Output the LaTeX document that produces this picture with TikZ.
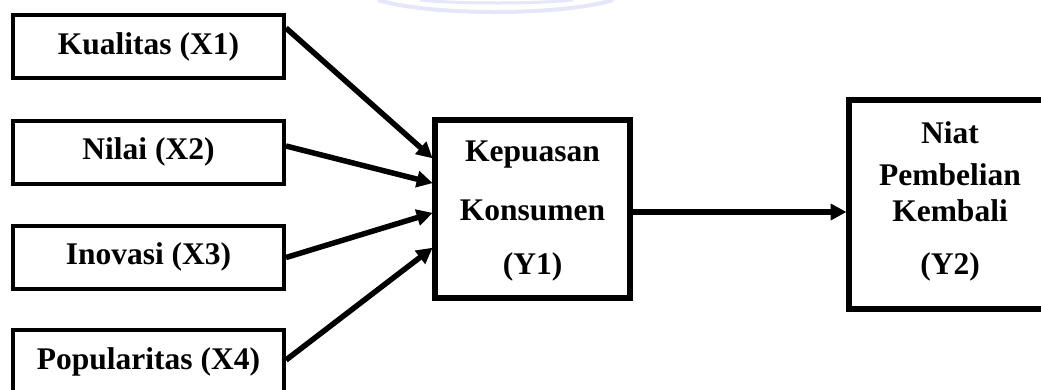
\documentclass[tikz,border=0pt]{standalone}
\usepackage{fontspec}
\setmainfont{Liberation Serif}
\usetikzlibrary{arrows.meta}
\definecolor{wmark}{RGB}{230,230,250}
\tikzset{
  varbox/.style={draw=black, line width=4pt, fill=white, inner sep=0pt,
    minimum width=271pt, minimum height=63pt},
  bigbox/.style={draw=black, line width=5.5pt, fill=white, inner sep=0pt},
  lbl/.style={inner sep=0pt, font=\fontsize{31.5}{36}\selectfont\bfseries},
  link/.style={line width=5.5pt, -{Triangle[length=16pt,width=16pt]}, shorten >=-0.5pt}
}
\begin{document}
\begin{tikzpicture}[x=1pt, y=-1pt]
  \clip (0,0) rectangle (1041,389);
  \fill[white] (0,0) rectangle (1041,389);

  % faint arcs at the top edge
  \draw[wmark, line width=4pt] (378,0) .. controls (430,16) and (560,16) .. (613,0);
  \draw[wmark, line width=3pt] (420,0) .. controls (460,4) and (535,4) .. (573,0);

  % independent variables
  \node[varbox] (x1) at (148.5,46.5) {};
  \node[varbox] (x2) at (148.5,152.5) {};
  \node[varbox] (x3) at (148.5,257.5) {};
  \node[varbox] (x4) at (148.5,361.5) {};
  \node[lbl] (tx1) at (148.5,47) {Kualitas (X1)};
  \node[lbl] (tx2) at (148.5,152) {Nilai (X2)};
  \node[lbl] (tx3) at (148.5,257) {Inovasi (X3)};
  \node[lbl] (tx4) at (148.5,362) {Popularitas (X4)};

  % mediating variable
  \node[bigbox, minimum width=195pt, minimum height=178pt] (y1) at (532.5,209) {};
  \node[lbl] (ty1a) at (532.5,155) {Kepuasan};
  \node[lbl] (ty1b) at (532.5,210) {Konsumen};
  \node[lbl] (ty1c) at (532.5,267) {(Y1)};

  % dependent variable
  \node[bigbox, line width=6pt, minimum width=202pt, minimum height=209pt] (y2) at (950,204.5) {};
  \node[lbl] (ty2a) at (950,133) {Niat};
  \node[lbl] (ty2b) at (950,175) {Pembelian};
  \node[lbl] (ty2c) at (950,211) {Kembali};
  \node[lbl] (ty2d) at (950,267) {(Y2)};

  % paths
  \draw[link] ([yshift=18.5pt]x1.east) -- ([yshift=51pt]y1.west);
  \draw[link] ([yshift=6.5pt]x2.east) -- ([yshift=26pt]y1.west);
  \draw[link] ([yshift=0pt]x3.east) -- ([yshift=-4pt]y1.west);
  \draw[link] ([yshift=1.5pt]x4.east) -- ([yshift=-39pt]y1.west);
  \draw[link] ([yshift=-3pt]y1.east) -- ([yshift=-3pt]y1.east -| y2.west);
\end{tikzpicture}
\end{document}
